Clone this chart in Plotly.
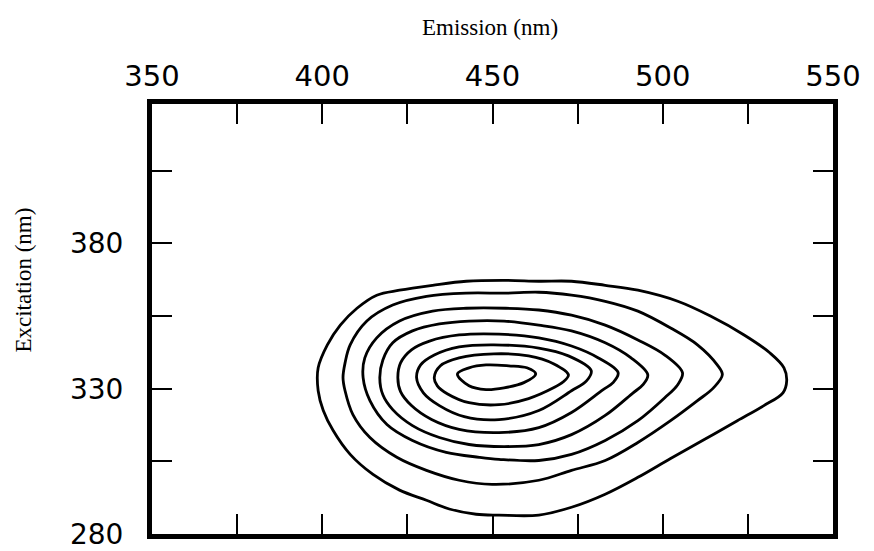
import plotly.graph_objects as go

# Emission (nm) / Excitation (nm) coordinates (outer -> inner)
em_1 = [398.8, 398.8, 401.5, 405.3, 410.2, 416.0, 422.7, 432.4, 442.3, 453.9, 463.6, 473.2, 483.1, 492.7, 504.4, 514.0, 523.9, 531.5, 535.6, 536.4, 535.3, 529.7, 521.9, 512.2, 502.3, 492.7, 483.1, 473.2, 463.6, 451.9, 445.2, 437.3, 430.6, 422.7, 414.9, 408.2, 403.2, 400.3, 398.8]
ex_1 = [329.3, 337.2, 345.1, 351.9, 357.7, 362.2, 363.9, 365.6, 367.0, 367.3, 367.0, 367.0, 365.6, 363.9, 360.1, 355.0, 348.5, 342.3, 337.2, 332.7, 328.6, 324.2, 319.0, 312.5, 306.0, 299.5, 293.7, 289.2, 286.5, 286.5, 286.8, 288.6, 291.6, 295.1, 300.5, 307.4, 315.6, 322.5, 329.3]

em_2 = [406.1, 406.7, 408.2, 413.1, 420.7, 430.6, 442.3, 453.9, 463.6, 473.2, 483.1, 492.7, 502.3, 510.2, 516.0, 517.5, 514.9, 510.2, 502.3, 492.7, 483.1, 473.2, 463.6, 449.9, 440.2, 430.6, 421.9, 414.0, 409.0, 406.7, 406.1]
ex_2 = [333.8, 338.9, 345.1, 353.3, 358.8, 361.8, 362.9, 362.9, 363.2, 362.2, 360.1, 356.7, 350.9, 345.1, 338.2, 334.8, 330.3, 325.9, 319.0, 311.5, 305.3, 301.9, 298.5, 297.1, 298.5, 301.9, 306.4, 313.2, 321.1, 329.3, 333.8]

em_3 = [412.0, 412.5, 416.0, 422.7, 432.4, 442.3, 453.9, 463.6, 473.2, 483.1, 492.7, 500.6, 505.8, 504.4, 500.6, 492.7, 483.1, 473.2, 463.6, 451.9, 446.1, 436.4, 426.5, 419.0, 414.0, 412.0]
ex_3 = [333.8, 340.6, 347.5, 353.3, 356.7, 357.7, 357.7, 357.1, 355.3, 351.9, 346.8, 341.6, 335.5, 331.4, 326.9, 319.0, 312.2, 307.4, 305.3, 305.7, 306.4, 308.1, 312.2, 317.7, 325.9, 333.8]

em_4 = [416.9, 417.8, 420.7, 426.5, 434.4, 443.1, 453.4, 463.6, 473.2, 483.1, 490.7, 495.6, 494.2, 491.3, 483.1, 473.2, 463.6, 453.4, 443.1, 434.4, 426.5, 420.7, 417.8, 416.9]
ex_4 = [333.8, 339.9, 345.8, 349.9, 352.3, 353.3, 353.3, 351.9, 349.9, 345.8, 340.6, 334.8, 331.4, 328.6, 320.8, 314.2, 310.8, 310.1, 310.8, 313.2, 317.3, 322.8, 327.9, 333.8]

em_5 = [422.2, 423.0, 426.2, 431.5, 440.2, 451.9, 463.6, 473.2, 481.1, 486.9, 485.4, 482.5, 473.2, 463.6, 451.9, 440.2, 432.1, 426.2, 423.0, 422.2]
ex_5 = [333.8, 338.9, 343.4, 346.4, 348.5, 348.8, 347.5, 344.7, 340.6, 335.5, 332.1, 329.7, 321.8, 316.6, 314.9, 316.0, 319.4, 324.2, 329.0, 333.8]

em_6 = [427.7, 428.9, 432.9, 440.2, 450.4, 463.6, 472.3, 479.0, 477.6, 473.2, 463.6, 451.9, 441.7, 434.4, 429.7, 427.7]
ex_6 = [333.8, 338.2, 341.6, 344.4, 345.1, 344.0, 341.3, 336.2, 332.7, 329.3, 322.5, 319.4, 320.4, 324.2, 328.6, 333.8]

em_7 = [432.9, 434.7, 440.2, 450.4, 460.6, 467.9, 472.3, 470.8, 467.9, 460.6, 451.9, 443.1, 436.7, 433.8, 432.9]
ex_7 = [333.8, 337.9, 340.6, 342.0, 341.3, 338.6, 334.8, 332.4, 330.3, 326.6, 324.5, 325.2, 328.3, 331.0, 333.8]

em_8 = [439.7, 443.1, 448.1, 454.8, 460.1, 462.7, 459.2, 453.4, 448.1, 443.1, 439.7]
ex_8 = [335.1, 337.2, 338.2, 337.9, 337.2, 335.1, 332.1, 330.3, 329.7, 331.0, 335.1]

x_tick_vals = [350, 375, 400, 425, 450, 475, 500, 525, 550]
x_tick_text = ["350", "", "400", "", "450", "", "500", "", "550"]
y_tick_vals = [280, 305, 330, 355, 380, 405]
y_tick_text = ["280", "", "330", "", "380", ""]

contours = [(em_1, ex_1), (em_2, ex_2), (em_3, ex_3), (em_4, ex_4),
            (em_5, ex_5), (em_6, ex_6), (em_7, ex_7), (em_8, ex_8)]

fig = go.Figure()
for em, ex in contours:
    fig.add_trace(go.Scatter(
        x=em, y=ex, mode="lines",
        line=dict(color="black", width=2.8, shape="spline", smoothing=1.0),
        showlegend=False, hoverinfo="skip",
    ))

fig.update_layout(
    width=874, height=551,
    margin=dict(l=152, r=41, t=104, b=17),
    paper_bgcolor="white", plot_bgcolor="white",
    showlegend=False,
    xaxis=dict(
        side="top", range=[350, 550], tickmode="array",
        tickvals=x_tick_vals, ticktext=x_tick_text,
        ticks="inside", ticklen=20, tickwidth=2, tickcolor="black",
        showline=True, linewidth=5, linecolor="black", mirror="ticks",
        showgrid=False, zeroline=False,
        tickfont=dict(family="DejaVu Sans", size=29, color="black"),
        ticklabelstandoff=1, automargin=False, ticklabeloverflow="allow",
    ),
    yaxis=dict(
        range=[280, 428], tickmode="array",
        tickvals=y_tick_vals, ticktext=y_tick_text,
        ticks="inside", ticklen=20, tickwidth=2, tickcolor="black",
        showline=True, linewidth=5, linecolor="black", mirror="ticks",
        showgrid=False, zeroline=False,
        tickfont=dict(family="DejaVu Sans", size=28, color="black"),
        ticklabelstandoff=18, automargin=False, ticklabeloverflow="allow",
    ),
    annotations=[
        dict(text="Emission (nm)", xref="paper", yref="paper",
             x=0.496, y=1.178, xanchor="center", yanchor="middle",
             showarrow=False,
             font=dict(family="Liberation Serif", size=23, color="black")),
        dict(text="Excitation (nm)", xref="paper", yref="paper",
             x=-0.189, y=0.590, xanchor="center", yanchor="middle",
             textangle=-90, showarrow=False,
             font=dict(family="Liberation Serif", size=23, color="black")),
    ],
)

fig.write_html(
    "out.html",
    config={"displayModeBar": False},
    post_script="document.body.style.margin='0';document.body.style.overflow='hidden';",
)
